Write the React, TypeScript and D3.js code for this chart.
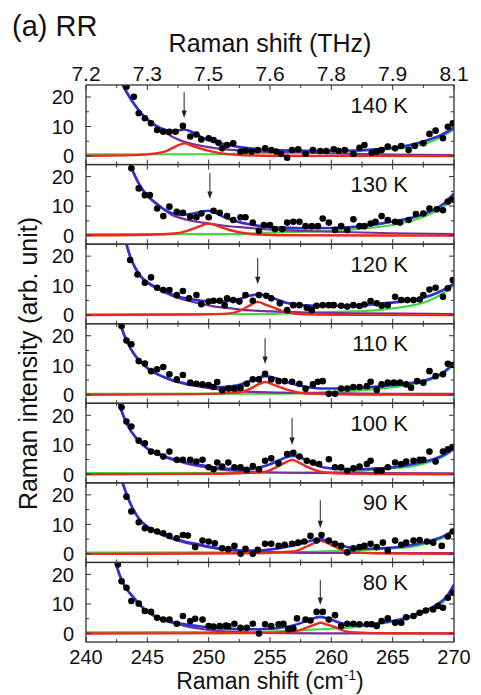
import React from "react";
import * as d3 from "d3";

type P = [number, number];

const X_TICKS = [240, 245, 250, 255, 260, 265, 270];
const THZ_LABELS = ["7.2", "7.3", "7.5", "7.6", "7.8", "7.9", "8.1"];
const Y_LABELS = [0, 10, 20];
const TEMPS = ["140 K", "130 K", "120 K", "110 K", "100 K", "90 K", "80 K"];
const ARROW_X = [248.0, 250.1, 254.0, 254.6, 256.8, 259.1, 259.1];
const ARROW_TOP = [21.7, 21.2, 19.4, 19.2, 19.1, 18.2, 18.1];
const ARROW_TIP = [12.9, 12.4, 10.5, 10.4, 9.9, 8.7, 9.6];

const dots140: P[] = [[243.3,23.5],[243.9,20.1],[244.3,14.5],[244.8,12.8],[245.3,11.1],[245.8,8.8],[246.3,8.2],[246.8,8.2],[247.3,8.2],[247.9,10.2],[248.5,6.6],[249.0,7.3],[249.4,5.6],[250.0,6.0],[250.4,5.4],[250.8,4.5],[251.1,2.6],[251.5,3.7],[252.0,4.3],[252.6,1.5],[253.0,1.8],[253.5,1.5],[254.0,2.0],[254.6,2.6],[255.1,2.0],[255.5,1.5],[255.9,0.7],[256.4,-0.6],[256.8,2.0],[257.3,2.3],[257.9,0.7],[258.5,2.0],[259.1,1.7],[259.6,1.7],[260.2,2.3],[260.6,1.8],[261.1,2.0],[261.8,0.7],[262.3,2.8],[262.7,3.7],[263.3,1.1],[263.7,1.5],[264.1,2.0],[264.6,3.2],[265.2,2.6],[265.7,3.4],[266.3,2.0],[266.8,3.4],[267.5,4.3],[268.0,7.5],[268.5,8.6],[269.1,6.0],[269.5,9.9],[269.9,11.1]];
const dots130: P[] = [[243.7,22.8],[244.3,16.0],[244.8,13.7],[245.2,13.7],[245.8,9.2],[246.3,6.6],[246.8,9.8],[247.4,8.1],[247.9,7.7],[248.5,6.4],[249.0,6.2],[249.4,7.5],[250.0,6.2],[250.4,8.4],[250.9,7.7],[251.5,6.6],[252.0,5.3],[252.6,6.2],[253.0,6.2],[253.6,4.4],[254.1,1.6],[254.5,3.6],[255.0,3.6],[255.4,2.2],[256.0,2.2],[256.4,4.4],[256.9,4.7],[257.4,4.7],[257.9,3.2],[258.4,3.2],[258.9,3.2],[259.3,5.8],[259.8,4.4],[260.3,1.9],[260.8,3.2],[261.3,1.9],[261.8,5.5],[262.3,3.2],[262.7,3.2],[263.2,4.1],[263.6,4.7],[264.1,6.6],[264.6,5.3],[265.2,4.7],[265.6,4.4],[266.3,5.3],[266.9,7.3],[267.5,7.5],[268.0,9.2],[268.6,8.9],[269.1,8.6],[269.5,11.5],[269.9,12.2]];
const dots120: P[] = [[243.6,18.7],[244.2,13.8],[244.8,11.0],[245.3,12.8],[245.8,9.3],[246.3,8.5],[246.8,8.5],[247.4,6.8],[247.9,8.2],[248.4,5.7],[249.0,6.8],[249.4,3.7],[250.0,4.6],[250.4,4.9],[250.9,4.9],[251.3,3.4],[251.5,5.7],[252.0,5.1],[252.5,4.6],[253.0,6.8],[253.6,4.9],[254.1,6.8],[254.7,6.6],[255.1,5.7],[255.8,4.0],[256.4,1.7],[256.9,3.4],[257.4,3.4],[258.0,2.5],[258.4,1.7],[258.8,3.2],[259.3,3.4],[259.8,3.4],[260.2,3.4],[260.8,3.2],[261.3,2.9],[261.8,3.4],[262.3,3.1],[262.7,3.6],[263.2,4.8],[263.7,4.0],[264.1,3.2],[264.6,3.4],[265.2,6.2],[265.7,5.1],[266.2,5.1],[266.7,5.1],[267.2,5.3],[267.5,6.8],[268.0,8.7],[268.5,9.3],[269.1,6.2],[269.5,9.1],[269.9,11.9]];
const dots110: P[] = [[242.9,23.3],[243.3,18.4],[243.7,17.1],[244.3,11.4],[244.8,10.6],[245.3,8.0],[245.8,8.6],[246.3,9.4],[246.8,6.9],[247.4,5.2],[247.9,6.7],[248.5,4.1],[249.0,3.7],[249.5,3.5],[250.0,3.3],[250.4,2.6],[250.7,4.3],[251.1,1.5],[251.6,2.1],[252.1,2.1],[252.6,2.4],[253.1,3.7],[253.6,5.2],[254.1,5.2],[254.6,7.1],[255.1,5.2],[255.7,4.6],[256.2,4.6],[256.8,4.4],[257.4,3.7],[257.9,2.0],[258.5,3.5],[258.9,4.4],[259.3,4.6],[259.8,0.3],[260.3,0.3],[260.8,2.1],[261.3,2.1],[261.8,2.6],[262.3,2.6],[262.9,2.9],[263.2,4.4],[263.7,1.6],[264.1,3.5],[264.6,4.1],[265.1,4.1],[265.6,4.1],[266.1,3.5],[266.5,2.4],[267.0,4.6],[267.5,4.1],[268.0,8.0],[268.5,6.3],[269.1,6.9],[269.5,10.5],[269.9,10.1]];
const dots100: P[] = [[242.9,22.7],[243.3,17.9],[243.7,16.2],[244.3,11.4],[244.8,10.5],[245.3,7.7],[245.8,7.3],[246.3,6.0],[246.8,7.7],[247.4,4.9],[247.9,4.9],[248.5,4.9],[249.0,4.3],[249.5,4.9],[250.0,2.4],[250.4,1.7],[250.7,4.0],[251.1,2.6],[251.6,4.0],[252.1,2.4],[252.6,2.4],[253.1,1.5],[253.6,2.8],[254.1,1.7],[254.6,4.6],[255.1,5.4],[255.7,3.7],[256.4,6.9],[256.9,7.3],[257.4,6.0],[258.0,4.6],[258.5,4.0],[259.0,3.5],[259.8,5.1],[260.3,2.4],[260.8,2.4],[261.3,1.2],[261.8,2.0],[262.3,2.6],[262.9,3.5],[263.2,4.6],[263.7,1.2],[264.1,1.2],[264.6,2.4],[265.2,4.0],[265.7,3.5],[266.1,4.3],[266.7,4.6],[267.2,4.9],[267.5,4.9],[268.0,7.7],[268.5,4.3],[269.1,7.7],[269.5,8.5],[269.9,9.2]];
const dots90: P[] = [[243.3,19.4],[243.7,14.4],[244.3,10.7],[244.8,8.7],[245.3,8.1],[245.8,7.6],[246.3,7.0],[246.8,6.1],[247.4,5.3],[247.9,6.4],[248.3,6.2],[248.9,2.3],[249.5,4.5],[250.0,4.2],[250.5,3.6],[251.1,1.9],[251.6,1.6],[252.1,2.7],[252.6,0.0],[253.0,1.7],[253.6,0.0],[254.0,1.4],[254.6,3.4],[255.1,3.4],[255.7,2.7],[256.2,3.1],[256.8,3.4],[257.3,3.8],[257.8,4.2],[258.3,6.1],[258.8,4.5],[259.2,6.4],[259.8,4.5],[260.3,3.4],[260.8,2.7],[261.3,0.5],[261.8,1.9],[262.3,2.3],[262.7,2.7],[263.2,3.4],[263.7,2.3],[264.2,3.8],[264.6,1.1],[265.2,4.5],[265.7,3.1],[266.1,3.8],[266.7,4.5],[267.2,4.7],[267.8,4.2],[268.3,3.8],[269.0,2.7],[269.5,5.9],[269.9,7.6]];
const dots80: P[] = [[242.6,23.4],[242.9,17.7],[243.3,15.5],[243.7,11.0],[244.3,10.1],[244.8,7.6],[245.3,7.3],[245.8,5.3],[246.3,4.7],[246.8,4.7],[247.4,3.3],[247.9,5.9],[248.5,4.2],[248.9,5.0],[249.5,4.7],[250.0,2.5],[250.4,2.3],[250.9,2.5],[251.4,2.7],[251.6,2.5],[252.1,3.3],[252.6,1.9],[253.1,1.9],[253.6,3.3],[254.1,0.0],[254.6,3.1],[255.1,2.5],[255.7,3.1],[256.1,3.3],[256.5,1.4],[256.9,1.7],[257.2,5.1],[257.9,4.7],[258.3,4.4],[258.8,7.3],[259.3,7.3],[259.8,4.7],[260.3,6.2],[260.8,2.5],[261.3,3.3],[261.8,3.3],[262.3,3.1],[262.9,3.1],[263.3,3.1],[263.7,2.5],[264.1,4.2],[264.6,5.1],[265.2,3.6],[265.7,3.6],[266.1,5.5],[266.7,5.9],[267.2,7.0],[267.7,7.8],[268.3,8.1],[268.7,9.3],[269.1,8.7],[269.5,12.1],[269.9,13.8]];

const blue140: P[] = [[242.3,30],[243,24],[243.5,20.2],[244,17.2],[244.5,14.5],[245,12.4],[245.5,10.8],[246,9.6],[246.5,8.8],[247,8.5],[247.5,8.7],[248,9.0],[248.5,8.4],[249,7.3],[249.5,6.2],[250,5.4],[251,4.3],[252,3.4],[253,2.8],[254,2.3],[256,1.9],[258,1.8],[261,1.8],[263,2.1],[265,2.8],[266.5,3.8],[268,5.6],[269,7.2],[270,9.6]];
const purple140: P[] = [[242.3,30],[243,24],[243.5,20.5],[244,17.2],[244.5,14.6],[245,12.5],[245.5,10.7],[246,9.2],[247,6.6],[248,4.8],[249,3.8],[250,3.0],[251,2.4],[252.5,1.9],[254,1.6],[257,1.2],[261,0.8],[265,0.5],[270,0.3]];
const green140: P[] = [[240,0.6],[250,0.6],[254,1.0],[258,1.4],[262,1.7],[265,2.4],[267,3.5],[268.5,5.5],[270,9.0]];
const red140: P[] = [[240,0.1],[244,0.3],[245.5,0.8],[246.5,1.6],[247.4,3.4],[248,4.3],[248.7,3.4],[249.8,2.0],[250.9,1.0],[252.3,0.4],[255,0.1],[270,0]];

const blue130: P[] = [[243,30],[243.6,24],[244,20.2],[244.4,16.9],[245,13.6],[245.5,11.7],[246.3,9.1],[247,7.6],[247.7,7.0],[248.5,7.3],[249.3,8.0],[250,8.4],[250.6,7.6],[251.3,6.2],[252.3,4.8],[253.2,3.9],[254.5,3.1],[256,2.7],[258.5,2.5],[261.3,2.8],[263,3.4],[264.5,4.4],[266,5.5],[267.3,7.0],[268.3,8.6],[269.2,11],[270,14.3]];
const purple130: P[] = [[243,30],[243.6,24],[244,20],[244.4,16.9],[245,13.4],[245.5,11.5],[246.3,9.0],[247,7.0],[248,5.6],[249,4.7],[250,4.1],[251,3.5],[253,2.7],[254.5,2.2],[257,1.7],[260,1.3],[265,0.8],[270,0.5]];
const green130: P[] = [[240,0.5],[252,0.5],[255,1.0],[258,1.3],[260,1.6],[262,2.2],[264,3.0],[265.5,4.0],[267,5.6],[268.3,7.8],[269.2,10],[270,12.5]];
const red130: P[] = [[240,0.1],[245,0.3],[247.4,0.8],[248.7,2.3],[249.4,3.4],[250,4.1],[250.7,3.3],[251.7,1.9],[253.1,0.7],[254.5,0.3],[257,0.1],[270,0]];

const blue120: P[] = [[242.8,32],[243.3,24],[243.6,19.9],[244,16.2],[244.5,13],[245,11.2],[245.8,9.2],[247,7.0],[248,5.8],[249,5.1],[250.4,4.6],[251.7,4.8],[252.5,5.5],[253.3,6.6],[254,7.0],[254.7,6.6],[255.5,5.4],[256.4,4.1],[257.5,3.4],[259,3.2],[261.3,3.2],[264,3.9],[265.5,4.5],[266.7,5.1],[267.5,5.9],[268.3,7.0],[269.2,8.7],[270,10.8]];
const purple120: P[] = [[242.8,32],[243.3,24],[243.6,19.8],[244,16],[244.5,12.8],[245,10.9],[245.8,9.0],[247,6.6],[248,5.2],[249,4.2],[250.4,3.0],[252,2.2],[253.1,1.7],[255,1.3],[258,0.9],[262,0.6],[266,0.5],[270,0.4]];
const green120: P[] = [[240,0.3],[255,0.4],[258,0.8],[261,1.2],[264,1.8],[265.5,2.6],[266.7,3.4],[267.5,4.2],[268.3,5.6],[269.2,7.6],[270,10.2]];
const red120: P[] = [[240,0],[249,0.2],[251.7,0.6],[252.8,2.0],[253.4,3.4],[254,4.5],[254.6,3.6],[255.2,2.7],[256.4,0.9],[258,0.3],[262,0.1],[270,0]];

const blue110: P[] = [[242.3,30],[242.7,25],[243.3,18.4],[244,13.3],[244.5,11],[244.9,9.4],[245.5,7.7],[246.3,6.1],[247,5.0],[247.7,4.2],[249,3.1],[250,2.7],[250.9,2.6],[251.8,2.9],[252.6,3.5],[253.6,5.0],[254.6,6.3],[255.4,5.7],[256,4.8],[257.2,3.3],[258.2,2.5],[259.1,2.1],[261.3,2.1],[264,2.9],[266.7,4.1],[268.3,5.8],[269.2,7.8],[270,10.8]];
const purple110: P[] = [[242.3,30],[242.7,25],[243.3,18.4],[244,13.3],[244.5,10.9],[245,9.0],[245.5,7.6],[246.3,6.0],[247,4.8],[248,3.7],[249,2.9],[250.4,2.0],[252,1.4],[253.5,1.0],[256,0.7],[260,0.5],[265,0.3],[270,0.3]];
const green110: P[] = [[240,0.3],[256,0.4],[258.5,0.7],[261.3,1.2],[264,2.1],[266,3.1],[267.3,4.2],[268.3,5.4],[269.2,7.4],[270,10.3]];
const red110: P[] = [[240,0],[249,0.2],[252.3,0.7],[253.4,2.1],[254,3.4],[254.6,4.3],[255.2,3.5],[255.8,2.6],[256.9,1.1],[258,0.4],[262,0.1],[270,0]];

const blue100: P[] = [[242.3,30],[242.7,24],[243.3,17.3],[244.1,12.2],[244.6,10.1],[245.2,8.2],[246,6.8],[246.6,5.8],[247.4,4.8],[248.2,4.0],[249.3,3.1],[250.4,2.4],[251.5,1.9],[252.6,1.6],[253.5,1.8],[254.2,2.4],[255,3.4],[255.8,4.9],[256.8,6.2],[257.5,5.7],[258,4.7],[258.5,3.6],[259.1,2.6],[260,2.0],[261.3,1.7],[264,2.0],[266.7,3.5],[268.3,5.1],[269.2,6.6],[270,8.8]];
const purple100: P[] = [[242.3,30],[242.7,24],[243.3,17.3],[244.1,12.2],[244.6,10.0],[245.2,8.1],[246,6.5],[246.6,5.5],[247.4,4.5],[248.2,3.6],[249.3,2.7],[250.4,1.9],[251.5,1.4],[253,1.0],[255,0.7],[258,0.5],[263,0.4],[270,0.3]];
const green100: P[] = [[240,0.4],[257,0.5],[259,0.6],[261.3,0.9],[264,1.7],[266.7,2.8],[268.3,4.6],[269.2,6.2],[270,8.5]];
const red100: P[] = [[240,0],[251,0.2],[254.5,0.8],[255.6,2.6],[256.2,3.9],[256.8,4.9],[257.4,3.9],[258,2.6],[259.1,0.9],[260.5,0.3],[264,0.1],[270,0]];

const blue90: P[] = [[242.5,30],[242.9,25],[243.6,17.2],[244.4,11.5],[245,9.3],[245.5,8.1],[246.3,6.4],[247.1,5.3],[248,4.2],[249,3.4],[250,2.5],[250.9,1.9],[252,1.4],[253.1,1.1],[254.3,1.2],[255.3,1.6],[256.3,2.3],[257.2,3.1],[258.2,4.3],[259.1,5.0],[259.9,4.2],[260.7,3.1],[261.4,2.2],[262.1,1.7],[264,1.9],[266.7,3.1],[268.3,4.7],[269.2,6.1],[270,8.1]];
const purple90: P[] = [[242.5,30],[242.9,25],[243.6,17.2],[244.4,11.5],[245,9.2],[245.5,8.0],[246.3,6.3],[247.1,5.0],[248,3.9],[249,3.0],[250,2.2],[250.9,1.6],[252,1.2],[253.5,0.8],[256,0.5],[260,0.3],[265,0.3],[270,0.3]];
const green90: P[] = [[240,0.4],[256,0.5],[258,0.7],[260,0.9],[262,1.2],[264,1.6],[266.7,2.5],[268.3,4.2],[269.2,5.6],[270,7.6]];
const red90: P[] = [[240,0],[253,0.2],[256.9,0.8],[258.2,2.9],[258.7,3.8],[259.1,4.4],[259.6,3.8],[260.2,2.6],[261.3,0.8],[263,0.3],[266,0.1],[270,0]];

const blue80: P[] = [[242.1,30],[242.5,22.8],[243,17.2],[243.9,12.1],[244.4,9.7],[244.9,7.8],[245.5,6.2],[246.3,4.8],[247.2,3.8],[248.2,3.0],[249.3,2.4],[250.4,1.9],[251.7,1.6],[253.1,1.4],[254.5,1.5],[255.8,1.9],[256.8,2.6],[257.5,3.5],[258.3,4.8],[259.1,5.6],[259.9,4.8],[260.7,3.6],[261.5,2.9],[262.3,2.8],[263.2,3.1],[264,3.6],[265.6,4.7],[267.2,7.0],[268.6,9.8],[269.4,12.5],[270,16.6]];
const purple80: P[] = [[242.1,30],[242.5,22.8],[243,17.2],[243.9,12.1],[244.4,9.6],[244.9,7.7],[245.5,6.0],[246.3,4.5],[247.2,3.4],[248.2,2.4],[249.3,1.6],[250.4,1.0],[251.7,0.6],[253.1,0.3],[256,0.1],[262,0],[270,0]];
const green80: P[] = [[240,0.4],[254,0.5],[256,0.8],[258,1.2],[259.5,1.5],[261,1.9],[262.5,2.4],[264,3.3],[265.6,4.4],[267.2,6.4],[268.6,9.1],[269.4,11.8],[270,16]];
const red80: P[] = [[240,0],[253,0.1],[256.9,0.6],[258.2,2.3],[258.7,3.1],[259.1,3.6],[259.6,3.1],[260.2,2.3],[261.3,0.6],[263,0.2],[266,0.05],[270,0]];

const DOTS = [dots140, dots130, dots120, dots110, dots100, dots90, dots80];
const BLUE = [blue140, blue130, blue120, blue110, blue100, blue90, blue80];
const PURPLE = [purple140, purple130, purple120, purple110, purple100, purple90, purple80];
const GREEN = [green140, green130, green120, green110, green100, green90, green80];
const RED = [red140, red130, red120, red110, red100, red90, red80];

const W = 481, H = 695;
const L = 86, R = 454, T = 85, B = 642;
const FONT = "'Liberation Sans', Arial, sans-serif";
const TXT = "#111";

export default function App() {
  const x = d3.scaleLinear().domain([240, 270]).range([L, R]);
  const ph = (B - T) / TEMPS.length;
  const minorX = d3.range(240, 270.01, 2.5);
  const minorY = [0, 5, 10, 15, 20];

  return (
    <svg width={W} height={H} style={{ position: "absolute", left: 0, top: 0, background: "#fff" }} fontFamily={FONT}>
      <defs>
        {TEMPS.map((_, i) => (
          <clipPath id={`clip${i}`} key={i}>
            <rect x={L} y={T + i * ph} width={R - L} height={ph} />
          </clipPath>
        ))}
      </defs>
      <rect width={W} height={H} fill="#fff" />
      <text x={12} y={36} fontSize={29} fill={TXT}>(a) RR</text>
      <text x={(L + R) / 2} y={52} fontSize={25} textAnchor="middle" fill={TXT}>Raman shift (THz)</text>
      {X_TICKS.map((t, i) => (
        <text key={"thz" + i} x={x(t)} y={81} fontSize={21} textAnchor="middle" fill={TXT}>{THZ_LABELS[i]}</text>
      ))}
      {X_TICKS.map((t) => (
        <text key={"cm" + t} x={x(t)} y={664} fontSize={20} textAnchor="middle" fill={TXT}>{t}</text>
      ))}
      <text x={(L + R) / 2} y={689} fontSize={23} textAnchor="middle" fill={TXT}>
        Raman shift (cm<tspan fontSize={14} dy={-9}>-1</tspan><tspan dy={9}>)</tspan>
      </text>
      <text transform={`translate(37,${(T + B) / 2}) rotate(-90)`} fontSize={25} textAnchor="middle" fill={TXT}>
        Raman intensity (arb. unit)
      </text>
      {TEMPS.map((temp, i) => {
        const y0 = T + i * ph;
        const y = d3.scaleLinear().domain([-2.9, 24.07]).range([y0 + ph, y0]);
        const line = d3.line<P>().x((d) => x(d[0])).y((d) => y(d[1])).curve(d3.curveMonotoneX);
        const ax = x(ARROW_X[i]);
        const aTop = y(ARROW_TOP[i]);
        const aTip = y(ARROW_TIP[i]);
        return (
          <g key={temp}>
            <g clipPath={`url(#clip${i})`}>
              <path d={line(GREEN[i]) || ""} fill="none" stroke="#3bdc3b" strokeWidth={2.2} />
              <path d={line(PURPLE[i]) || ""} fill="none" stroke="#7b2d9c" strokeWidth={2.2} />
              <path d={line(RED[i]) || ""} fill="none" stroke="#ec2a1c" strokeWidth={2.4} />
              <path d={line(BLUE[i]) || ""} fill="none" stroke="#3030d4" strokeWidth={2.6} />
              {DOTS[i].map((d, j) => (
                <circle key={j} cx={x(d[0])} cy={y(d[1])} r={3.3} fill="#000" />
              ))}
            </g>
            <line x1={ax} x2={ax} y1={aTop} y2={aTip - 6} stroke="#222" strokeWidth={1} />
            <path d={`M${ax - 2.6},${aTip - 7.5} L${ax + 2.6},${aTip - 7.5} L${ax},${aTip} Z`} fill="#222" />
            <text x={408} y={y0 + 27.5} fontSize={22} textAnchor="end" fill={TXT}>{temp}</text>
            {minorX.map((t) => {
              const len = t % 5 === 0 ? 5 : 3;
              return (
                <g key={"xt" + t}>
                  <line x1={x(t)} x2={x(t)} y1={y0} y2={y0 + len} stroke="#333" strokeWidth={1} />
                  <line x1={x(t)} x2={x(t)} y1={y0 + ph} y2={y0 + ph - len} stroke="#333" strokeWidth={1} />
                </g>
              );
            })}
            {minorY.map((t) => {
              const len = t % 10 === 0 ? 5 : 3;
              return (
                <g key={"yt" + t}>
                  <line x1={L} x2={L + len} y1={y(t)} y2={y(t)} stroke="#333" strokeWidth={1} />
                  <line x1={R} x2={R - len} y1={y(t)} y2={y(t)} stroke="#333" strokeWidth={1} />
                </g>
              );
            })}
            {Y_LABELS.map((t) => (
              <text key={"yl" + t} x={74} y={y(t) + 7.3} fontSize={20} textAnchor="end" fill={TXT}>{t}</text>
            ))}
            <rect x={L} y={y0} width={R - L} height={ph} fill="none" stroke="#333" strokeWidth={1.3} />
          </g>
        );
      })}
    </svg>
  );
}
